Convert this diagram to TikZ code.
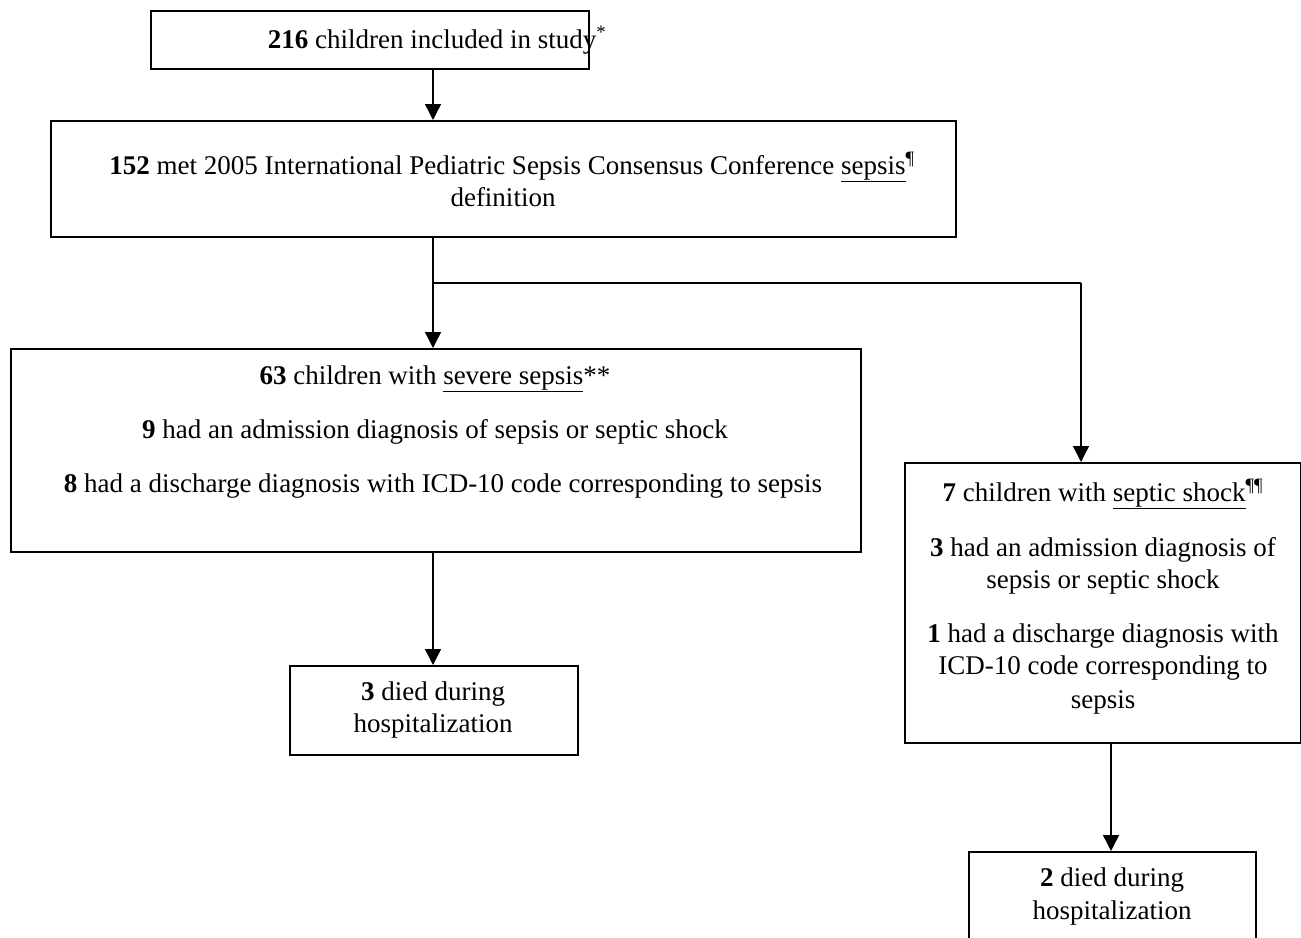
\documentclass[tikz,border=0pt]{standalone}
\usepackage{fontspec}
\setmainfont{Liberation Serif}
\usetikzlibrary{arrows.meta,calc}
\begin{document}
\begin{tikzpicture}[x=1pt,y=-1pt,
  box/.style={draw=black,line width=2pt,rectangle,inner sep=0pt,anchor=north west},
  txt/.style={anchor=base,inner sep=0pt,font=\fontsize{27}{32}\selectfont},
  arr/.style={line width=1.4pt,-{Triangle[width=16pt,length=16pt]}},
  conn/.style={line width=1.4pt}]
\useasboundingbox (0,0) rectangle (1301,937);
\clip (0,0) rectangle (1301,937);
% boxes
\node[box,minimum width=438pt,minimum height=58pt] (b1) at (150,10) {};
\node[box,minimum width=905pt,minimum height=116pt] (b2) at (50,120) {};
\node[box,minimum width=850pt,minimum height=203pt] (b3) at (10,348) {};
\node[box,minimum width=288pt,minimum height=89pt] (b4) at (289,665) {};
\node[box,minimum width=396pt,minimum height=280pt] (b5) at (904,462) {};
\node[box,minimum width=287pt,minimum height=110pt] (b6) at (968,851) {};
% texts
\node[txt] (t1) at (437,48) {\textbf{216} children included in study\textsuperscript{*}};
\node[txt] (t2a) at (512,174) {\textbf{152} met 2005 International Pediatric Sepsis Consensus Conference \underline{sepsis}\textsuperscript{\P}};
\node[txt] (t2b) at (503,206) {definition};
\node[txt] (t3a) at (435,384) {\textbf{63} children with \underline{severe sepsis}**};
\node[txt] (t3b) at (435,438) {\textbf{9} had an admission diagnosis of sepsis or septic shock};
\node[txt] (t3c) at (443,492) {\textbf{8} had a discharge diagnosis with ICD-10 code corresponding to sepsis};
\node[txt] (t4a) at (433,700) {\textbf{3} died during};
\node[txt] (t4b) at (433,732) {hospitalization};
\node[txt] (t5a) at (1103,501) {\textbf{7} children with \underline{septic shock}\textsuperscript{\P\P}};
\node[txt] (t5b) at (1103,556) {\textbf{3} had an admission diagnosis of};
\node[txt] (t5c) at (1103,588) {sepsis or septic shock};
\node[txt] (t5d) at (1103,642) {\textbf{1} had a discharge diagnosis with};
\node[txt] (t5e) at (1103,674) {ICD-10 code corresponding to};
\node[txt] (t5f) at (1103,708) {sepsis};
\node[txt] (t6a) at (1112,886) {\textbf{2} died during};
\node[txt] (t6b) at (1112,919) {hospitalization};
% connectors
\coordinate (mx) at (433,0);
\coordinate (rx) at (1081,0);
\coordinate (split) at (433,283);
\coordinate (turn) at (1081,283);
\coordinate (dx) at (1111,0);
\draw[arr] (b1.south -| mx) -- (b2.north -| mx);
\draw[arr] (b2.south -| mx) -- (b3.north -| mx);
\draw[conn] (split) -- (turn);
\draw[arr] (turn) -- (b5.north -| rx);
\draw[arr] (b3.south -| mx) -- (b4.north -| mx);
\draw[arr] (b5.south -| dx) -- (b6.north -| dx);
\end{tikzpicture}
\end{document}
